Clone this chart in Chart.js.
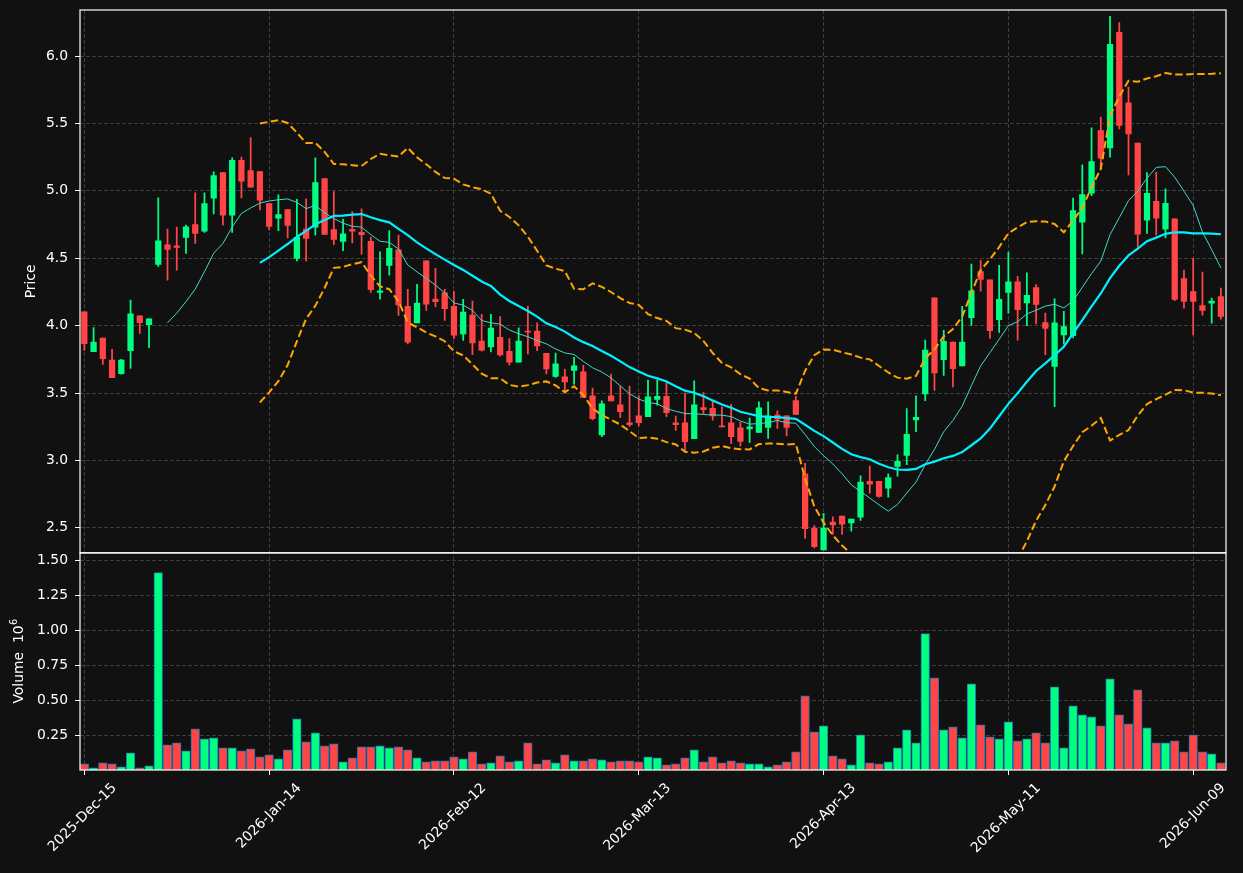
<!DOCTYPE html>
<html lang="en">
<head>
<meta charset="UTF-8" />
<title>Price and volume</title>
<style>
  html, body { margin: 0; padding: 0; background: #111111; }
  #wrapper { width: 1243px; height: 873px; }
</style>
</head>
<body>
<div id="wrapper"><canvas id="chart" width="1243" height="873"></canvas></div>

<script src="https://cdn.jsdelivr.net/npm/chart.js@4.4.1/dist/chart.umd.min.js"></script>
<script>
// daily candles, one per trading day (index 0 = 2025-Dec-15)
const opens = [4.102, 3.806, 3.908, 3.744, 3.643, 3.814, 4.072, 4.007, 4.454, 4.600,
  4.593, 4.655, 4.749, 4.700, 4.945, 5.136, 4.819, 5.226, 5.151, 5.144,
  4.906, 4.797, 4.861, 4.499, 4.717, 4.730, 5.092, 4.712, 4.625, 4.715,
  4.692, 4.625, 4.246, 4.447, 4.562, 4.143, 4.021, 4.480, 4.197, 4.244,
  4.143, 3.939, 4.078, 3.885, 3.842, 3.914, 3.810, 3.728, 3.959, 3.959,
  3.795, 3.623, 3.620, 3.667, 3.658, 3.479, 3.189, 3.479, 3.412, 3.278,
  3.330, 3.325, 3.452, 3.476, 3.278, 3.278, 3.161, 3.392, 3.386, 3.257,
  3.279, 3.242, 3.234, 3.207, 3.244, 3.336, 3.331, 3.443, 2.900, 2.498,
  2.336, 2.542, 2.587, 2.537, 2.579, 2.844, 2.844, 2.794, 2.955, 3.037,
  3.300, 3.494, 4.206, 3.747, 3.878, 3.702, 4.060, 4.402, 4.340, 4.045,
  4.246, 4.325, 4.168, 4.282, 4.022, 3.698, 3.931, 3.926, 4.767, 4.983,
  5.448, 5.319, 6.176, 5.653, 5.354, 4.783, 4.922, 4.716, 4.793, 4.349,
  4.252, 4.148, 4.167, 4.215];
const highs = [4.102, 3.985, 3.908, 3.824, 3.750, 4.189, 4.072, 4.050, 4.948, 4.717,
  4.732, 4.747, 4.985, 4.985, 5.141, 5.136, 5.246, 5.251, 5.395, 5.144,
  4.906, 4.970, 4.861, 4.938, 4.940, 5.246, 5.092, 4.995, 4.789, 4.846,
  4.866, 4.655, 4.548, 4.705, 4.671, 4.269, 4.306, 4.480, 4.426, 4.269,
  4.254, 4.195, 4.182, 4.083, 4.083, 4.068, 3.904, 3.984, 4.143, 4.021,
  3.795, 3.797, 3.675, 3.764, 3.705, 3.536, 3.442, 3.640, 3.551, 3.551,
  3.479, 3.596, 3.596, 3.576, 3.328, 3.499, 3.591, 3.504, 3.443, 3.398,
  3.416, 3.282, 3.314, 3.435, 3.435, 3.368, 3.331, 3.475, 2.979, 2.517,
  2.607, 2.582, 2.587, 2.565, 2.885, 2.958, 2.844, 2.901, 3.042, 3.385,
  3.479, 3.893, 4.206, 3.965, 3.878, 4.144, 4.457, 4.484, 4.340, 4.447,
  4.546, 4.365, 4.391, 4.304, 4.094, 4.198, 4.106, 4.946, 5.193, 5.468,
  5.547, 6.295, 6.248, 5.770, 5.354, 5.135, 5.140, 5.016, 4.793, 4.413,
  4.500, 4.398, 4.205, 4.279];
const lows = [3.816, 3.806, 3.712, 3.613, 3.640, 3.682, 3.943, 3.836, 4.439, 4.337,
  4.412, 4.536, 4.610, 4.692, 4.829, 4.747, 4.692, 4.948, 5.027, 4.859,
  4.710, 4.705, 4.650, 4.481, 4.481, 4.672, 4.677, 4.600, 4.556, 4.613,
  4.531, 4.246, 4.196, 4.375, 4.076, 3.865, 4.021, 4.113, 4.140, 4.038,
  3.904, 3.890, 3.785, 3.810, 3.805, 3.773, 3.706, 3.728, 3.790, 3.815,
  3.641, 3.615, 3.501, 3.566, 3.467, 3.300, 3.176, 3.442, 3.318, 3.253,
  3.256, 3.325, 3.409, 3.325, 3.223, 3.069, 3.161, 3.347, 3.299, 3.249,
  3.125, 3.105, 3.133, 3.207, 3.163, 3.237, 3.182, 3.341, 2.421, 2.351,
  2.336, 2.450, 2.450, 2.475, 2.555, 2.757, 2.727, 2.727, 2.883, 2.968,
  3.213, 3.444, 3.519, 3.630, 3.546, 3.702, 4.002, 4.256, 3.906, 3.950,
  4.092, 3.893, 4.000, 4.012, 3.785, 3.399, 3.864, 3.908, 4.532, 4.965,
  5.163, 5.250, 5.460, 5.119, 4.582, 4.684, 4.674, 4.651, 4.185, 4.130,
  3.932, 4.078, 4.019, 4.048];
const closes = [3.866, 3.878, 3.754, 3.613, 3.744, 4.087, 4.022, 4.050, 4.630, 4.566,
  4.581, 4.734, 4.685, 4.906, 5.114, 4.819, 5.226, 5.072, 5.027, 4.931,
  4.737, 4.824, 4.744, 4.655, 4.648, 5.062, 4.677, 4.640, 4.682, 4.700,
  4.675, 4.266, 4.258, 4.573, 4.153, 3.877, 4.167, 4.160, 4.177, 4.125,
  3.929, 4.100, 3.872, 3.818, 3.981, 3.783, 3.728, 3.885, 3.952, 3.850,
  3.679, 3.717, 3.583, 3.702, 3.467, 3.310, 3.419, 3.442, 3.362, 3.266,
  3.280, 3.471, 3.476, 3.355, 3.266, 3.139, 3.412, 3.377, 3.331, 3.249,
  3.177, 3.140, 3.249, 3.391, 3.331, 3.306, 3.244, 3.341, 2.493, 2.359,
  2.498, 2.522, 2.527, 2.565, 2.840, 2.824, 2.732, 2.873, 2.993, 3.194,
  3.320, 3.819, 3.650, 3.883, 3.680, 3.878, 4.258, 4.342, 3.963, 4.196,
  4.325, 4.119, 4.224, 4.158, 3.980, 4.020, 3.993, 4.854, 4.973, 5.218,
  5.243, 6.087, 5.485, 5.423, 4.679, 4.981, 4.798, 4.907, 4.195, 4.180,
  4.180, 4.113, 4.182, 4.068];
// volume in millions of shares
const volumes = [0.050, 0.021, 0.057, 0.050, 0.029, 0.129, 0.021, 0.036, 1.414, 0.186,
  0.200, 0.143, 0.300, 0.229, 0.236, 0.164, 0.164, 0.143, 0.157, 0.100,
  0.114, 0.086, 0.150, 0.371, 0.207, 0.271, 0.179, 0.193, 0.064, 0.093,
  0.171, 0.171, 0.179, 0.164, 0.171, 0.150, 0.093, 0.064, 0.071, 0.071,
  0.100, 0.086, 0.136, 0.050, 0.057, 0.107, 0.064, 0.071, 0.200, 0.050,
  0.079, 0.057, 0.114, 0.071, 0.071, 0.086, 0.079, 0.064, 0.071, 0.071,
  0.064, 0.100, 0.093, 0.043, 0.050, 0.093, 0.150, 0.064, 0.100, 0.057,
  0.071, 0.057, 0.050, 0.050, 0.029, 0.043, 0.064, 0.136, 0.536, 0.279,
  0.321, 0.107, 0.086, 0.043, 0.257, 0.057, 0.050, 0.064, 0.164, 0.293,
  0.200, 0.979, 0.664, 0.293, 0.314, 0.236, 0.621, 0.329, 0.243, 0.229,
  0.350, 0.214, 0.229, 0.271, 0.200, 0.600, 0.164, 0.464, 0.400, 0.386,
  0.321, 0.657, 0.400, 0.336, 0.579, 0.307, 0.200, 0.200, 0.214, 0.136,
  0.257, 0.136, 0.121, 0.057];

const tickPositions = [0, 20, 40, 60, 80, 100, 120];
const tickLabels = ['2025-Dec-15', '2026-Jan-14', '2026-Feb-12', '2026-Mar-13',
  '2026-Apr-13', '2026-May-11', '2026-Jun-09'];
const priceTicks = [2.5, 3.0, 3.5, 4.0, 4.5, 5.0, 5.5, 6.0];
const volumeTicks = [0.25, 0.50, 0.75, 1.00, 1.25, 1.50];

const UP = '#00ff80';
const DOWN = '#ff4545';

// moving averages and bollinger bands (20, 2) on closes
const mean = a => a.reduce((s, v) => s + v, 0) / a.length;
const std = a => {
  const m = mean(a);
  return Math.sqrt(mean(a.map(v => (v - m) * (v - m))));
};
const rolling = (vals, n, fn) =>
  vals.map((v, i) => (i < n - 1 ? null : fn(vals.slice(i - n + 1, i + 1))));
const ma10 = rolling(closes, 10, mean);
const ma20 = rolling(closes, 20, mean);
const bandUp = rolling(closes, 20, w => mean(w) + 2 * std(w));
const bandLow = rolling(closes, 20, w => mean(w) - 2 * std(w));

const pts = arr => arr.map((y, x) => ({ x: x, y: y }));
const candleColor = ctx => (closes[ctx.dataIndex] >= opens[ctx.dataIndex] ? UP : DOWN);

// background, per-panel clipping, white frames and the volume label with its exponent
const panels = {
  id: 'panels',
  beforeDraw(chart) {
    const ctx = chart.ctx;
    ctx.save();
    ctx.fillStyle = '#111111';
    ctx.fillRect(0, 0, chart.width, chart.height);
    ctx.restore();
  },
  beforeDatasetDraw(chart, args) {
    const s = chart.scales[args.meta.yAxisID];
    const a = chart.chartArea;
    chart.ctx.save();
    chart.ctx.beginPath();
    chart.ctx.rect(a.left, s.top, a.right - a.left, s.bottom - s.top);
    chart.ctx.clip();
  },
  afterDatasetDraw(chart) {
    chart.ctx.restore();
  },
  afterDraw(chart) {
    const ctx = chart.ctx;
    const a = chart.chartArea;
    ctx.save();
    ctx.strokeStyle = '#ffffff';
    ctx.lineWidth = 1.2;
    ['y', 'yv'].forEach(id => {
      const s = chart.scales[id];
      ctx.strokeRect(a.left, s.top, a.right - a.left, s.bottom - s.top);
    });

    // "Volume  10^6"
    const yv = chart.scales.yv;
    const main = 'Volume  10';
    ctx.translate(19, (yv.top + yv.bottom) / 2);
    ctx.rotate(-Math.PI / 2);
    ctx.fillStyle = '#ffffff';
    ctx.textBaseline = 'middle';
    ctx.font = '13.9px "DejaVu Sans"';
    const w1 = ctx.measureText(main).width;
    ctx.font = '9.7px "DejaVu Sans"';
    const w2 = ctx.measureText('6').width;
    let x0 = -(w1 + w2) / 2;
    ctx.textAlign = 'left';
    ctx.font = '13.9px "DejaVu Sans"';
    ctx.fillText(main, x0, 0);
    ctx.font = '9.7px "DejaVu Sans"';
    ctx.fillText('6', x0 + w1 + 0.5, -5);
    ctx.restore();
  }
};

Chart.defaults.font.family = 'DejaVu Sans';
Chart.defaults.font.size = 13.9;
Chart.defaults.color = '#ffffff';

const gridCfg = {
  color: '#3d3d3d',
  lineWidth: 1,
  tickColor: '#ffffff',
  tickLength: 5,
  tickWidth: 1
};

const noPad = s => {
  s.paddingTop = 0;
  s.paddingBottom = 0;
  s.paddingLeft = 0;
  s.paddingRight = 0;
};

new Chart('chart', {
  type: 'bar',
  plugins: [panels],
  data: {
    datasets: [{
      type: 'line',
      data: pts(ma20),
      yAxisID: 'y',
      borderColor: '#00f0ff',
      borderWidth: 2.2,
      pointRadius: 0,
      tension: 0
    }, {
      type: 'line',
      data: pts(ma10),
      yAxisID: 'y',
      borderColor: '#40d8c8',
      borderWidth: 1,
      pointRadius: 0,
      tension: 0
    }, {
      type: 'line',
      data: pts(bandUp),
      yAxisID: 'y',
      borderColor: '#ffa500',
      borderWidth: 2,
      borderDash: [7.5, 3.5],
      pointRadius: 0,
      tension: 0
    }, {
      type: 'line',
      data: pts(bandLow),
      yAxisID: 'y',
      borderColor: '#ffa500',
      borderWidth: 2,
      borderDash: [7.5, 3.5],
      pointRadius: 0,
      tension: 0
    }, {
      // candle bodies
      data: closes.map((c, i) => ({ x: i, y: [opens[i], c] })),
      yAxisID: 'y',
      backgroundColor: candleColor,
      barThickness: 5.6,
      minBarLength: 1,
      grouped: false
    }, {
      // wicks
      data: highs.map((h, i) => ({ x: i, y: [lows[i], h] })),
      yAxisID: 'y',
      backgroundColor: candleColor,
      barThickness: 1.1,
      grouped: false
    }, {
      data: volumes.map((v, i) => ({ x: i, y: v })),
      yAxisID: 'yv',
      backgroundColor: candleColor,
      borderColor: '#1f77b4',
      borderWidth: 1,
      barThickness: 8.6,
      grouped: false
    }]
  },
  options: {
    responsive: false,
    animation: false,
    devicePixelRatio: 1,
    layout: { padding: { top: 10, right: 17, bottom: 0, left: 0 } },
    plugins: { legend: { display: false }, tooltip: { enabled: false } },
    scales: {
      x: {
        type: 'linear',
        offset: false,
        min: -0.47,
        max: 123.55,
        afterFit: s => { noPad(s); s.height = 103; },
        afterBuildTicks: s => { s.ticks = tickPositions.map(v => ({ value: v })); },
        grid: Object.assign({ offset: false }, gridCfg),
        border: { display: false, dash: [4, 2] },
        ticks: {
          autoSkip: false,
          minRotation: 45,
          maxRotation: 45,
          padding: 5,
          labelOffset: 30,
          callback: (v, i) => tickLabels[i]
        }
      },
      yv: {
        type: 'linear',
        position: 'left',
        stack: 'panels',
        stackWeight: 2,
        min: 0.3 * Math.min(...volumes),
        max: 1.1 * Math.max(...volumes),
        afterFit: s => { noPad(s); s.width = 80; },
        afterBuildTicks: s => { s.ticks = volumeTicks.map(v => ({ value: v })); },
        grid: gridCfg,
        border: { display: false, dash: [4, 2] },
        ticks: { padding: 7, callback: v => v.toFixed(2) }
      },
      y: {
        type: 'linear',
        position: 'left',
        stack: 'panels',
        stackWeight: 5,
        min: 2.314,
        max: 6.342,
        afterFit: s => { noPad(s); s.width = 80; },
        afterBuildTicks: s => { s.ticks = priceTicks.map(v => ({ value: v })); },
        grid: gridCfg,
        border: { display: false, dash: [4, 2] },
        ticks: { padding: 7, callback: v => v.toFixed(1) },
        title: { display: true, text: 'Price', padding: { top: 23, bottom: 0 } }
      }
    }
  }
});
</script>
</body>
</html>
